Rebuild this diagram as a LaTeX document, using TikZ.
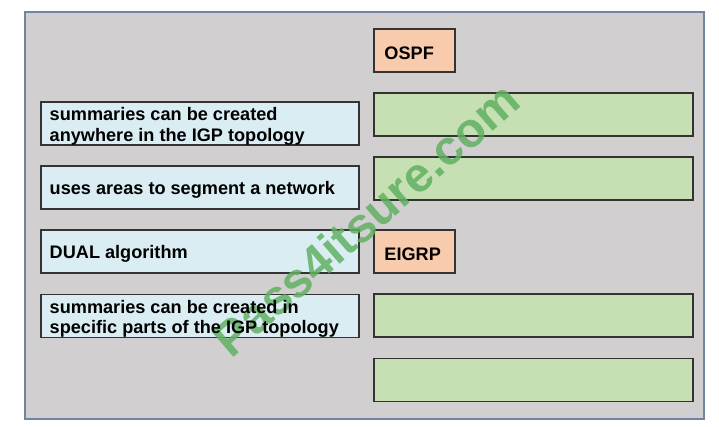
\documentclass[tikz,border=0pt]{standalone}
\usepackage{fontspec}
\setmainfont{Liberation Sans}
\definecolor{fongray}{HTML}{D1CFD0}
\definecolor{ramka}{HTML}{6F86A0}
\definecolor{goluboy}{HTML}{DAEDF3}
\definecolor{zelenyy}{HTML}{C6E0B4}
\definecolor{oranzh}{HTML}{F8CBAD}
\definecolor{vodyanoy}{HTML}{62B062}
\tikzset{
    korobka/.style={draw=black!80, line width=1.3pt,
        minimum height=32.25pt},
    opisanie/.style={korobka, fill=goluboy, minimum width=238.5pt},
    yacheyka/.style={korobka, fill=zelenyy, minimum width=239.25pt},
    protokol/.style={korobka, fill=oranzh, minimum width=60.75pt},
    nadpis/.style={anchor=west, align=left, inner xsep=7pt, yshift=-2pt,
        font=\fontsize{13.6}{15.4}\selectfont\bfseries}
}
\begin{document}
\begin{tikzpicture}[x=0.75pt, y=-0.75pt]
    \useasboundingbox (0,0) rectangle (719,427);

    % Внешняя серая панель
    \draw[line width=1.1pt, draw=ramka, fill=fongray] (25,12) rectangle (704,419);

    % Левая колонка: рамки описаний
    \node[opisanie] (d1) at (200,123.5) {};
    \node[opisanie] (d2) at (200,187.5) {};
    \node[opisanie] (d3) at (200,251.5) {};
    \node[opisanie] (d4) at (200,316)   {};

    % Правая колонка: заголовки протоколов
    \node[protokol] (ospf)  at (414.5,50.5)  {};
    \node[protokol] (eigrp) at (414.5,251.5) {};

    % Пустые ячейки для ответов
    \node[yacheyka] (o1) at (533.5,114.5) {};
    \node[yacheyka] (o2) at (533.5,178.5) {};
    \node[yacheyka] (e1) at (533.5,315.5) {};
    \node[yacheyka] (e2) at (533.5,380)   {};

    % Водяной знак (под текстом)
    \node[rotate=41, text=vodyanoy, opacity=0.85,
          font=\fontsize{36.5}{36.5}\selectfont\bfseries] (znak) at (366,219)
          {Pass4itsure.com};

    % Подписи
    \node[nadpis] (t1) at (d1.west) {summaries can be created\\anywhere in the IGP topology};
    \node[nadpis] (t2) at (d2.west) {uses areas to segment a network};
    \node[nadpis] (t3) at (d3.west) {DUAL algorithm};
    \node[nadpis] (t4) at (d4.west) {summaries can be created in\\specific parts of the IGP topology};
    \node[nadpis, inner xsep=8.3pt] (t5) at (ospf.west)  {OSPF};
    \node[nadpis, inner xsep=8.3pt] (t6) at (eigrp.west) {EIGRP};

\end{tikzpicture}
\end{document}
